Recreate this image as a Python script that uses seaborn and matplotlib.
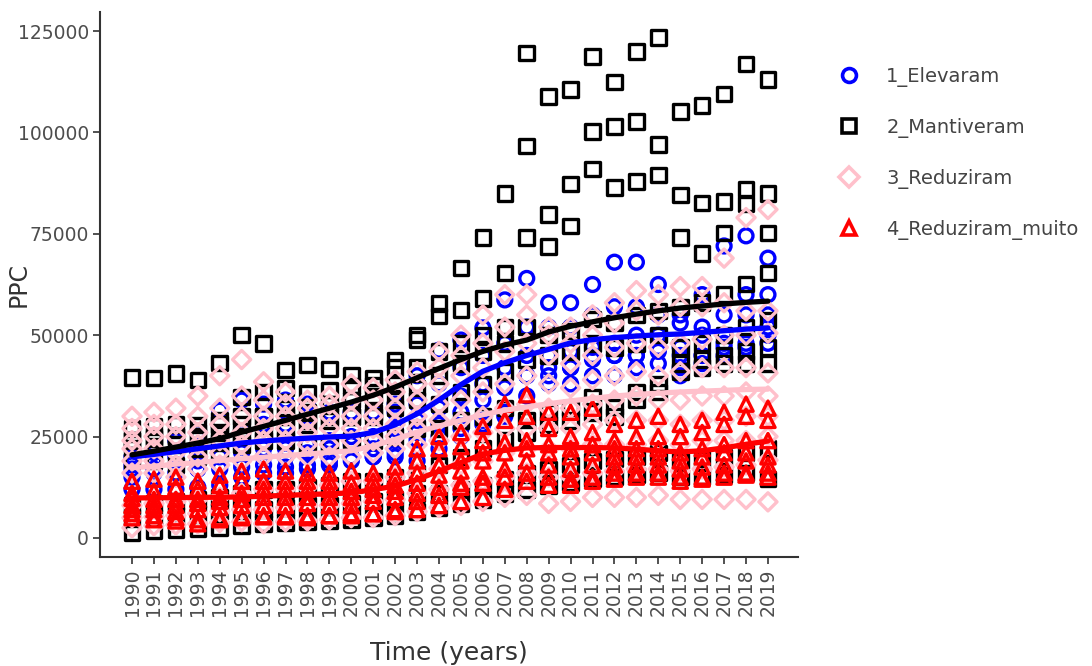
import numpy as np
import pandas as pd
import matplotlib
matplotlib.use("Agg")
import matplotlib.pyplot as plt
from matplotlib.lines import Line2D
import seaborn as sns

years = list(range(1990, 2020))

groups = ["1_Elevaram", "2_Mantiveram", "3_Reduziram", "4_Reduziram_muito"]
colors = ["#0000FF", "#000000", "#FFC0CB", "#FF0000"]
markers = ["o", "s", "D", "^"]

# PPC per unit, one row per unit, one value per year (1990-2019)
elevaram = [
    [19000, 21000, 24000, 26000, 31500, 34000, 33000, 34000, 33000, 31000, 31000, 31000, 33000, 40000, 46300, 48800, 51800, 58700, 64000, 58000, 58000, 62500, 68000, 68000, 62500, 55000, 60000, 72000, 74500, 69000],
    [18000, 19000, 20000, 21000, 24000, 26000, 28000, 28000, 30000, 30000, 30800, 30500, 31000, 33000, 38000, 42000, 45000, 48000, 52000, 52000, 52000, 55000, 57000, 57000, 55000, 53000, 52000, 55000, 60000, 60000],
    [17000, 17000, 18000, 19000, 20000, 21000, 22000, 22000, 23000, 24000, 25000, 25000, 27000, 29000, 32000, 35000, 38000, 42000, 45000, 45000, 46000, 47000, 48000, 50000, 50000, 47000, 50000, 50000, 55000, 55000],
    [15000, 16000, 16000, 17000, 18000, 19000, 20000, 20000, 21000, 22000, 23000, 22000, 24000, 26000, 28000, 31000, 34000, 37000, 40000, 42000, 42000, 44000, 45000, 45000, 47000, 45000, 45000, 47000, 50000, 50000],
    [12000, 12000, 12000, 12500, 13000, 15000, 16000, 17500, 18000, 19000, 20000, 20000, 21000, 24200, 25000, 27000, 29000, 31000, 35000, 38000, 38000, 40000, 40000, 42000, 43000, 40000, 43000, 45000, 47000, 48000],
    [20000, 19000, 18000, 17000, 17000, 17500, 18000, 16000, 17000, 18000, 19000, 20000, 20000, 19000, 22000, 25000, 28000, 30000, 40000, 40000, 42000, 45000, 45000, 45000, 46000, 42000, 45000, 48000, 48000, 52000],
]

mantiveram = [
    [39500, 39400, 40600, 39000, 43100, 50000, 48000, 41400, 42600, 41700, 40200, 39400, 43900, 50000, 57800, 66600, 74100, 85000, 119600, 108900, 110600, 118700, 112400, 119900, 123400, 105200, 106600, 109500, 116900, 113100],
    [27000, 27500, 28000, 27900, 29100, 34800, 36000, 37000, 35700, 36500, 37500, 37700, 42000, 49000, 54700, 56200, 59100, 65300, 96700, 79800, 87300, 100300, 101400, 102700, 97000, 84600, 82600, 82900, 86100, 85000],
    [24000, 24500, 25000, 25000, 26000, 28000, 30000, 32000, 31000, 33000, 34000, 35000, 38000, 42000, 46000, 48000, 50000, 52000, 74100, 71900, 76900, 91000, 86400, 87900, 89500, 74100, 70100, 75200, 82300, 75200],
    [22000, 22500, 23000, 22000, 23500, 25000, 26000, 27000, 28000, 29000, 30000, 31000, 34000, 37000, 40000, 43000, 46000, 48000, 52000, 50000, 51000, 54000, 53000, 55000, 56000, 57000, 58000, 60000, 62600, 65300],
    [24000, 25000, 25000, 26000, 28000, 30000, 30000, 30000, 29000, 30000, 30000, 30000, 32000, 34000, 33000, 36000, 38000, 41000, 44000, 45000, 46000, 48000, 47000, 48000, 50000, 47000, 48000, 50000, 52000, 53700],
    [19000, 19000, 18000, 20000, 21000, 23000, 24000, 24000, 23000, 23000, 24000, 24000, 25000, 27000, 27000, 29000, 30000, 32000, 29100, 31000, 32000, 34800, 32300, 36000, 38000, 43000, 44000, 45000, 46000, 47000],
    [8000, 8500, 9000, 9500, 10000, 11000, 12000, 12000, 12500, 13000, 14000, 14000, 15000, 16000, 18000, 20000, 22000, 24000, 26000, 28000, 29000, 31000, 30000, 34000, 36000, 41000, 42000, 43000, 43000, 43000],
    [5000, 5200, 5500, 6000, 6500, 7000, 7000, 7500, 8000, 8000, 8500, 9000, 9500, 11000, 11000, 12000, 13000, 14500, 16000, 17000, 18000, 19000, 19500, 20000, 21000, 19000, 19500, 20000, 21000, 22000],
    [1200, 1800, 2000, 2200, 2500, 3000, 3500, 3800, 4000, 4200, 4500, 5000, 5500, 6500, 7500, 8500, 9500, 11000, 12000, 13000, 13500, 14500, 15000, 15500, 16000, 15000, 15000, 15500, 16000, 14500],
]

reduziram = [
    [30000, 31000, 32000, 35000, 40000, 44000, 38500, 36000, 34000, 35000, 38000, 37000, 39000, 41000, 46000, 50000, 55000, 60000, 60000, 52000, 52000, 55000, 58000, 61000, 60000, 62000, 62000, 69000, 79000, 81000],
    [27000, 28000, 28000, 30000, 32000, 35000, 34000, 33000, 32000, 33000, 34000, 34000, 36000, 38000, 42000, 45000, 48000, 52000, 55000, 50000, 48000, 50000, 53000, 56000, 55000, 57000, 57000, 58000, 56000, 56000],
    [24000, 25000, 25000, 26000, 28000, 30000, 30000, 30000, 29000, 30000, 30000, 30000, 32000, 34000, 38000, 40000, 42000, 46000, 48000, 45000, 43000, 45000, 47000, 48000, 47000, 48000, 49000, 50000, 50000, 50500],
    [22000, 22000, 21000, 23000, 24000, 26000, 27000, 27000, 26000, 27000, 27000, 27000, 28000, 30000, 33000, 34000, 36000, 38000, 40000, 38000, 37000, 39000, 40000, 41000, 40000, 41000, 42000, 42000, 42000, 40700],
    [19000, 19000, 18000, 20000, 21000, 23000, 24000, 24000, 23000, 23000, 24000, 24000, 25000, 27000, 29000, 29000, 30000, 32000, 33000, 32000, 32000, 33000, 34000, 35000, 34000, 34000, 35000, 35000, 36000, 35000],
    [16000, 16000, 15000, 17000, 18000, 19000, 20000, 20000, 20000, 20000, 20000, 21000, 22000, 23000, 24000, 25000, 26000, 27000, 27000, 27000, 27000, 28000, 29000, 29000, 29000, 28000, 29000, 29000, 30000, 30000],
    [8000, 8500, 9000, 9500, 10000, 11000, 12000, 12000, 12500, 13000, 14000, 14000, 15000, 16000, 17000, 18000, 19000, 21000, 22000, 22000, 22000, 23000, 23000, 23000, 24000, 23000, 24000, 24000, 24000, 25000],
    [5000, 5200, 5500, 6000, 6500, 7000, 7000, 7500, 8000, 8000, 8500, 9000, 9500, 11000, 12000, 13000, 14000, 15000, 16000, 15000, 15000, 16000, 16500, 17000, 17000, 16500, 17000, 17500, 18000, 19200],
    [2500, 3000, 3200, 3500, 3800, 4000, 3500, 4000, 4200, 4500, 5000, 5000, 5500, 6500, 7500, 8000, 9000, 10000, 10500, 8500, 9000, 10000, 10000, 10000, 10500, 9500, 9500, 9500, 9500, 8900],
]

reduziram_muito = [
    [14000, 14500, 15000, 14000, 15500, 16500, 17000, 16500, 16000, 16000, 16500, 16000, 17500, 22000, 25000, 26000, 27500, 33000, 35300, 31000, 31000, 32000, 28000, 29000, 30000, 28000, 29000, 31000, 33000, 32000],
    [11000, 11500, 12500, 12000, 13000, 14000, 14000, 14000, 14000, 14000, 13500, 14000, 15000, 19000, 22000, 22500, 24000, 29000, 30000, 27000, 25000, 26000, 24000, 25000, 25000, 25000, 26000, 28000, 30000, 29000],
    [9800, 9500, 9500, 9500, 10000, 11000, 12000, 12000, 12000, 12000, 11500, 12000, 13000, 16000, 18000, 19000, 21000, 23500, 24000, 23000, 22000, 23000, 22000, 22000, 22000, 21000, 22000, 23000, 24000, 24000],
    [8000, 8000, 8000, 8500, 9000, 9500, 10000, 10000, 10000, 10000, 10000, 10500, 11500, 13500, 15500, 16500, 19000, 21000, 22000, 21000, 20000, 21000, 20000, 20000, 20000, 19000, 20000, 21000, 21000, 20000],
    [7000, 7000, 6500, 7000, 7500, 8000, 8000, 8000, 8500, 8000, 8000, 9000, 10000, 11000, 12500, 13500, 15000, 17000, 19000, 18000, 17000, 18000, 18000, 18000, 18000, 17000, 17500, 18000, 19000, 18000],
    [6000, 5500, 5000, 3500, 4500, 5000, 5500, 5500, 5000, 5500, 5500, 6000, 7000, 9000, 10500, 12500, 13500, 15000, 16000, 15000, 14500, 15000, 16000, 16000, 16000, 15000, 15000, 16000, 16000, 16000],
    [5000, 4500, 4200, 4500, 5000, 5400, 5200, 5200, 5500, 5500, 6000, 6000, 6500, 7000, 8000, 9000, 10000, 12000, 14000, 13000, 13000, 14000, 14500, 15000, 15000, 14000, 14500, 15000, 15500, 15000],
]

# Smoothed trend per group, one value per year
trend_elevaram = [20000, 20600, 21300, 22000, 22700, 23400, 23900, 24300, 24600, 24900, 25100, 26000, 27900, 30600, 34000, 37800, 41100, 43200, 45000, 46500, 48100, 48900, 49400, 49800, 50100, 50300, 50700, 51100, 51500, 51800]
trend_mantiveram = [20500, 21400, 22400, 23400, 24500, 26100, 27500, 29000, 30500, 32000, 33500, 35200, 37200, 39500, 41800, 44000, 46000, 47600, 48800, 50800, 52200, 53300, 54300, 55200, 56000, 56700, 57200, 57700, 58100, 58400]
trend_reduziram = [17300, 17700, 18200, 18600, 19100, 19500, 19900, 20300, 20700, 21100, 21500, 22700, 24300, 26100, 27600, 29000, 30400, 31500, 32300, 33100, 33800, 34400, 35000, 35400, 35700, 36000, 36200, 36400, 36600, 36700]
trend_reduziram_muito = [9860, 9900, 9950, 10000, 10050, 10100, 10300, 10500, 10700, 10900, 11100, 11900, 12800, 14400, 16500, 18600, 20700, 21600, 22200, 22300, 22300, 22300, 22200, 21900, 21500, 21200, 21500, 22200, 23100, 23900]

values_by_group = [elevaram, mantiveram, reduziram, reduziram_muito]
trends_by_group = [trend_elevaram, trend_mantiveram, trend_reduziram, trend_reduziram_muito]

rows = []
for g, units in zip(groups, values_by_group):
    for u, series in enumerate(units):
        for y, v in zip(years, series):
            rows.append({"group": g, "unit": u, "year": y, "PPC": v})
points = pd.DataFrame(rows)

trend_rows = []
for g, tr in zip(groups, trends_by_group):
    for y, v in zip(years, tr):
        trend_rows.append({"group": g, "year": y, "PPC": v})
trends = pd.DataFrame(trend_rows)

sns.set_theme(style="ticks")
plt.rcParams["font.family"] = ["DejaVu Sans"]

fig = plt.figure(figsize=(10.92, 6.66), dpi=100)
ax = fig.add_axes([100 / 1092, 1 - 557 / 666, 698 / 1092, 545 / 666])

marker_sizes = {"o": 100, "s": 110, "D": 85, "^": 105}
for g, c, m in zip(groups, colors, markers):
    sub = points[points["group"] == g]
    sns.scatterplot(data=sub, x="year", y="PPC", ax=ax, marker=m,
                    s=marker_sizes[m], facecolor="none", edgecolor=c,
                    linewidth=2.4, legend=False, zorder=2)

for g, c in zip(groups, colors):
    sub = trends[trends["group"] == g]
    sns.lineplot(data=sub, x="year", y="PPC", ax=ax, color=c,
                 linewidth=3.8, legend=False, zorder=3)

ax.set_xlim(1988.54, 2020.37)
ax.set_ylim(-4700, 129700)
ax.set_xticks(years)
ax.set_xticklabels([str(y) for y in years], rotation=90)
ax.set_yticks([0, 25000, 50000, 75000, 100000, 125000])
ax.set_yticklabels(["0", "25000", "50000", "75000", "100000", "125000"])
ax.tick_params(axis="both", labelsize=13.5, labelcolor="#4d4d4d",
               color="#333333", length=5, width=1.2, direction="out", pad=3)
ax.set_xlabel("Time (years)", fontsize=18, color="#333333", labelpad=18)
ax.set_ylabel("PPC", fontsize=17, color="#333333")
ax.yaxis.set_label_coords(-(100 - 31) / 698, 0.5)

for side in ["top", "right"]:
    ax.spines[side].set_visible(False)
for side in ["left", "bottom"]:
    ax.spines[side].set_color("#333333")
    ax.spines[side].set_linewidth(1.5)

handles = [Line2D([], [], linestyle="none", marker=m, markersize=10,
                  markerfacecolor="none", markeredgecolor=c, markeredgewidth=2.6,
                  label=g)
           for g, c, m in zip(groups, colors, markers)]
fig.legend(handles=handles, loc="upper left", bbox_to_anchor=(822 / 1092, 1 - 59 / 666),
           frameon=False, fontsize=14, labelcolor="#444444",
           handletextpad=0.9, labelspacing=1.6, borderaxespad=0)

fig.savefig("out.png", dpi=100)
